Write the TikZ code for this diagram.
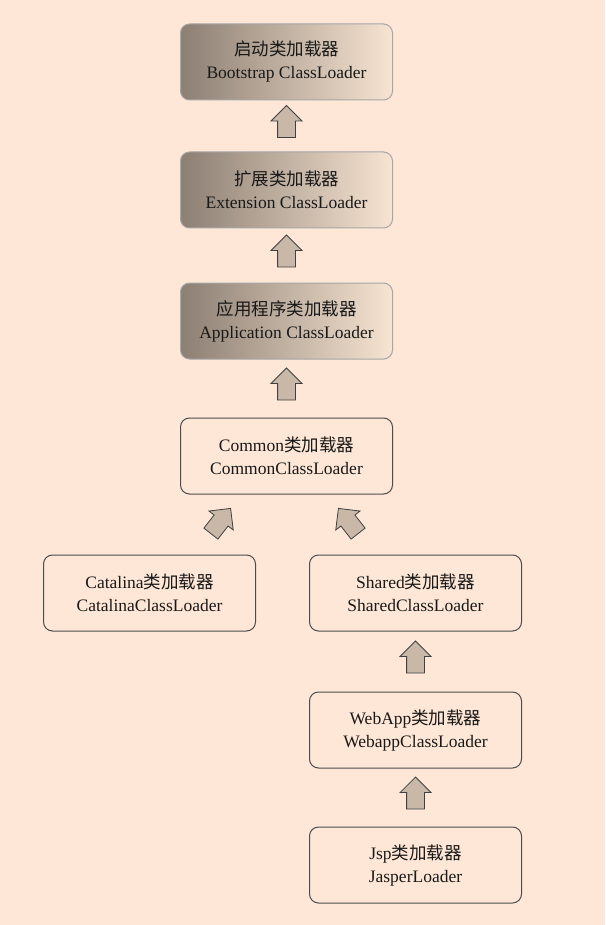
\documentclass[tikz,border=0pt]{standalone}
\usepackage{fontspec}
\setmainfont{Liberation Serif}
\newfontfamily\cjk{Noto Sans CJK SC}
\usetikzlibrary{positioning, calc, shapes.arrows}
\definecolor{bgpeach}{HTML}{FEE7D6}
\definecolor{shadedark}{HTML}{8C7F73}
\definecolor{shadelight}{HTML}{F7E4D2}
\definecolor{arrfill}{HTML}{C9B8A8}

\begin{document}
\begin{tikzpicture}[x=1pt, y=1pt, node distance=55pt,
    ldr/.style={draw=black!70, line width=1pt, rounded corners=9pt, minimum width=212pt, minimum height=76pt,
        align=center, font=\fontsize{17.5}{23}\selectfont, text=black!90},
    shaded/.style={draw=black!35, left color=shadedark, right color=shadelight},
    uparr/.style={single arrow, draw=black!75, fill=arrfill, line width=0.8pt, inner sep=8.5pt,
        minimum height=32pt, minimum width=30pt, single arrow head extend=6.5pt, shape border rotate=90}
]
    \fill[bgpeach] (0,0) rectangle (605,-925);
    \node[ldr, shaded] (boot) at (286.5,-62) {{\cjk 启动类加载器}\\Bootstrap ClassLoader};
    \node[ldr, shaded, below=51pt of boot] (ext) {{\cjk 扩展类加载器}\\Extension ClassLoader};
    \node[ldr, shaded, below=54pt of ext] (app) {{\cjk 应用程序类加载器}\\Application ClassLoader};
    \node[ldr, below=58pt of app] (common) {Common{\cjk 类加载器}\\CommonClassLoader};
    \node[ldr, below=60pt of common, xshift=-137pt] (catalina) {Catalina{\cjk 类加载器}\\CatalinaClassLoader};
    \node[ldr, below=60pt of common, xshift=129pt] (shared) {Shared{\cjk 类加载器}\\SharedClassLoader};
    \node[ldr, below=60pt of shared] (webapp) {WebApp{\cjk 类加载器}\\WebappClassLoader};
    \node[ldr, below=58pt of webapp] (jsp) {Jsp{\cjk 类加载器}\\JasperLoader};
    \node[uparr] (a1) at ($(ext.north)!.5!(boot.south)$) {};
    \node[uparr] (a2) at ($(app.north)!.5!(ext.south)$) {};
    \node[uparr] (a3) at ($(common.north)!.5!(app.south)$) {};
    \node[uparr, rotate=-38] (a4) at ($(catalina.north)!.5!(common.south)$) {};
    \node[uparr, rotate=38] (a5) at ($(shared.north)!.5!(common.south)$) {};
    \node[uparr] (a6) at ($(webapp.north)!.5!(shared.south)$) {};
    \node[uparr] (a7) at ($(jsp.north)!.5!(webapp.south)$) {};
\end{tikzpicture}
\end{document}
